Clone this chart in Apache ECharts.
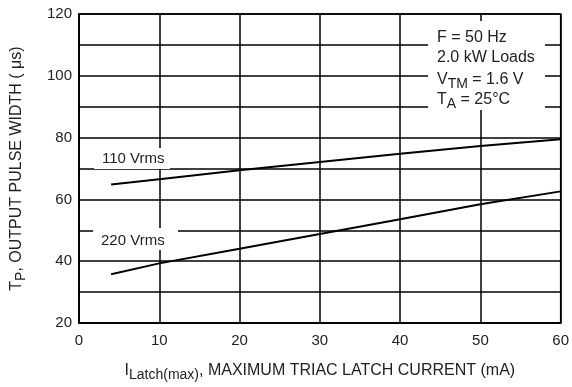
<!DOCTYPE html>
<html>
<head>
<meta charset="utf-8">
<script src="https://cdn.jsdelivr.net/npm/echarts@6/dist/echarts.min.js"></script>
<style>html,body{margin:0;padding:0;background:#fff}#c{width:572px;height:387px}</style>
</head>
<body>
<div id="c"></div>
<script>
var currents = [4, 10, 20, 30, 40, 50, 60];
var width110 = [64.8, 66.5, 69.4, 72.1, 74.8, 77.3, 79.5];
var width220 = [35.8, 39.3, 44.0, 48.8, 53.6, 58.4, 62.6];
var yTicks = [20, 40, 60, 80, 100, 120];
var xTicks = [0, 10, 20, 30, 40, 50, 60];

var FONT = '"Liberation Sans Narrow", "Liberation Sans", Arial, sans-serif';
var chart = echarts.init(document.getElementById('c'), null, {renderer: 'canvas'});

function pairs(xs, ys) { return xs.map(function (x, i) { return [x, ys[i]]; }); }

var opt = {
  animation: false,
  backgroundColor: '#fff',
  grid: {left: 79, right: 8, top: 14, bottom: 60, show: true, borderColor: '#000', borderWidth: 1.5, backgroundColor: 'transparent'},
  xAxis: {
    type: 'value', min: 0, max: 60, interval: 10,
    axisLine: {show: true, lineStyle: {color: '#000', width: 1.5}},
    axisTick: {show: false},
    splitLine: {show: true, lineStyle: {color: '#000', width: 1.5}},
    axisLabel: {color: '#222', fontFamily: FONT, fontSize: 15, margin: 10,
      formatter: function (v) { return xTicks.indexOf(v) >= 0 ? String(v) : ''; }},
    name: '{n|I}{s|Latch(max)}{n|, MAXIMUM TRIAC LATCH CURRENT (mA)}',
    nameLocation: 'middle', nameGap: 36,
    nameTextStyle: {color: '#222', fontFamily: FONT,
      rich: {n: {fontSize: 16, fontFamily: FONT, color: '#222'}, s: {fontSize: 14, fontFamily: FONT, color: '#222', padding: [9, 0, 0, 0]}}}
  },
  yAxis: {
    type: 'value', min: 20, max: 120, interval: 10,
    axisLine: {show: true, lineStyle: {color: '#000', width: 1.5}},
    axisTick: {show: false},
    splitLine: {show: true, lineStyle: {color: '#000', width: 1.5}},
    axisLabel: {color: '#222', fontFamily: FONT, fontSize: 15, margin: 7,
      formatter: function (v) { return yTicks.indexOf(v) >= 0 ? String(v) : ''; }},
    name: '{n|T}{s|P}{n|, OUTPUT PULSE WIDTH ( μs)}',
    nameLocation: 'middle', nameRotate: 90, nameGap: 51,
    nameTextStyle: {color: '#222', fontFamily: FONT,
      rich: {n: {fontSize: 16, fontFamily: FONT, color: '#222'}, s: {fontSize: 14, fontFamily: FONT, color: '#222', padding: [9, 0, 0, 0]}}}
  },
  series: [
    {type: 'line', name: '110 Vrms', data: pairs(currents, width110), smooth: false, symbol: 'none',
      lineStyle: {color: '#000', width: 2}, z: 5},
    {type: 'line', name: '220 Vrms', data: pairs(currents, width220), smooth: false, symbol: 'none',
      lineStyle: {color: '#000', width: 2}, z: 5}
  ],
  graphic: [
    {type: 'rect', shape: {x: 428, y: 21, width: 117, height: 89}, style: {fill: '#fff'}, z: 10},
    {type: 'text', left: 437, top: 30, z: 11, style: {text: 'F = 50 Hz', font: '16px ' + FONT, fill: '#222'}},
    {type: 'text', left: 437, top: 50, z: 11, style: {text: '2.0 kW Loads', font: '16px ' + FONT, fill: '#222'}},
    {type: 'text', left: 437, top: 72, z: 11, style: {text: '{n|V}{s|TM}{n| = 1.6 V}', font: '16px ' + FONT, fill: '#222',
      rich: {n: {fontSize: 16, fontFamily: FONT, fill: '#222'}, s: {fontSize: 14, fontFamily: FONT, fill: '#222', padding: [8, 0, 0, 0]}}}},
    {type: 'text', left: 437, top: 92, z: 11, style: {text: '{n|T}{s|A}{n| = 25°C}', font: '16px ' + FONT, fill: '#222',
      rich: {n: {fontSize: 16, fontFamily: FONT, fill: '#222'}, s: {fontSize: 14, fontFamily: FONT, fill: '#222', padding: [8, 0, 0, 0]}}}},
    {type: 'rect', shape: {x: 94, y: 148, width: 76, height: 21}, style: {fill: '#fff'}, z: 10},
    {type: 'text', left: 102, top: 151, z: 11, style: {text: '110 Vrms', font: '15px ' + FONT, fill: '#222'}},
    {type: 'rect', shape: {x: 93, y: 228, width: 85, height: 22}, style: {fill: '#fff'}, z: 10},
    {type: 'text', left: 101, top: 233, z: 11, style: {text: '220 Vrms', font: '15px ' + FONT, fill: '#222'}}
  ]
};
chart.setOption(opt);
</script>
</body>
</html>
